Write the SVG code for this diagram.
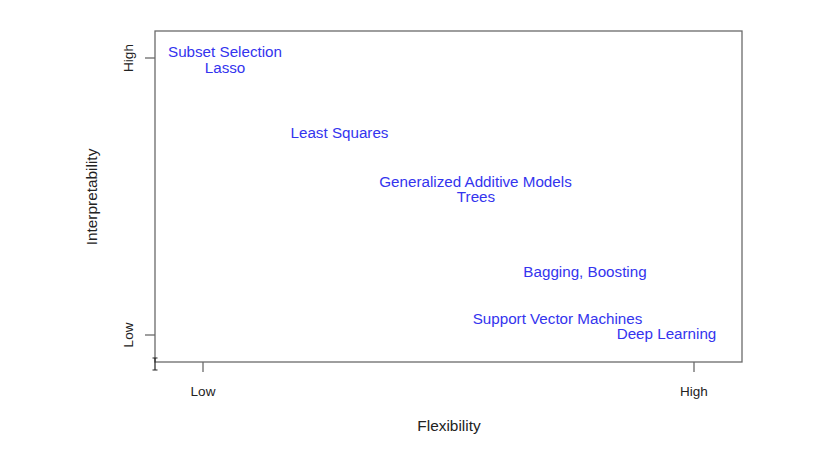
<svg xmlns="http://www.w3.org/2000/svg" width="825" height="449" viewBox="0 0 825 449">
<style>
.ax{stroke:#6a6a6a;stroke-width:1.3;fill:none}
.lab{font-family:"Liberation Sans",Arial,sans-serif;font-size:13.5px;fill:#222}
.big{font-family:"Liberation Sans",Arial,sans-serif;font-size:15.4px;fill:#222}
.m{font-family:"Liberation Sans",Arial,sans-serif;font-size:15.2px;fill:#3434ee;text-anchor:middle}
</style>
<rect width="825" height="449" fill="#ffffff"/>
<g id="axes">
<rect class="ax" x="155" y="31" width="587" height="331"/>
<line class="ax" x1="145" y1="58" x2="155" y2="58"/>
<line class="ax" x1="145" y1="335" x2="155" y2="335"/>
<line class="ax" x1="203" y1="362" x2="203" y2="372"/>
<line class="ax" x1="694" y1="362" x2="694" y2="372"/>
<text class="lab" text-anchor="middle" x="203" y="396">Low</text>
<text class="lab" text-anchor="middle" x="694" y="396">High</text>
<text class="lab" text-anchor="middle" transform="translate(133,58) rotate(-90)">High</text>
<text class="lab" text-anchor="middle" transform="translate(133,335) rotate(-90)">Low</text>
<text class="big" text-anchor="middle" x="449" y="431">Flexibility</text>
<text class="big" text-anchor="middle" transform="translate(97,197) rotate(-90)">Interpretability</text>
</g>
<g id="cursor" stroke="#222" stroke-width="1.2" fill="none">
<path d="M152.5,358 h5 M155,358 v12 M152.5,370 h5"/>
</g>
<g id="connectors"></g>
<g id="n-subset"><text class="m" x="225" y="57">Subset Selection</text></g>
<g id="n-lasso"><text class="m" x="225" y="73">Lasso</text></g>
<g id="n-ls"><text class="m" x="339.5" y="138">Least Squares</text></g>
<g id="n-gam"><text class="m" x="475.5" y="187">Generalized Additive Models</text></g>
<g id="n-trees"><text class="m" x="476" y="202">Trees</text></g>
<g id="n-bag"><text class="m" x="585" y="277">Bagging, Boosting</text></g>
<g id="n-svm"><text class="m" x="557.5" y="324">Support Vector Machines</text></g>
<g id="n-dl"><text class="m" x="666.5" y="339">Deep Learning</text></g>
</svg>
